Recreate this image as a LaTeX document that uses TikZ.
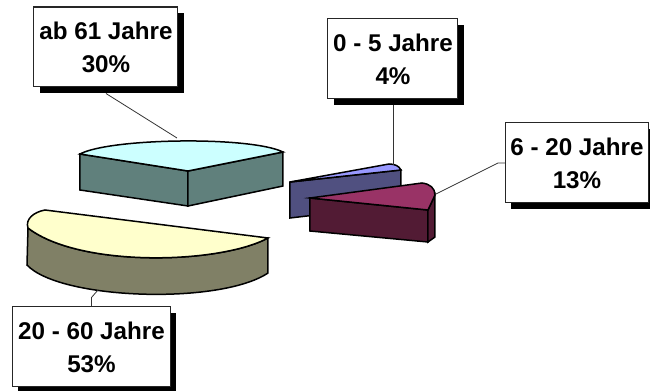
\documentclass[tikz,border=0pt]{standalone}
\usepackage{fontspec}
\setmainfont{Liberation Sans}
\usepackage{tikz}
\usetikzlibrary{shadows}

\definecolor{oldtop}{RGB}{204,255,255}
\definecolor{oldside}{RGB}{96,128,124}
\definecolor{kidtop}{RGB}{153,153,255}
\definecolor{kidside}{RGB}{80,80,128}
\definecolor{youngtop}{RGB}{153,51,102}
\definecolor{youngside}{RGB}{82,27,52}
\definecolor{adulttop}{RGB}{255,255,204}
\definecolor{adultside}{RGB}{128,128,102}

\begin{document}
\begin{tikzpicture}[x=0.5pt, y=-0.5pt, line width=0.75pt,
    labelbox/.style={draw=black!85, fill=white, line width=0.5pt, inner sep=0pt,
      minimum height=40pt, align=center,
      font=\bfseries\fontsize{12.1}{16.5}\selectfont,
      drop shadow={shadow xshift=3pt, shadow yshift=-3pt, opacity=1, fill=black}},
    leader/.style={draw=black!80, line width=0.4pt}]
    \useasboundingbox (0, 0) rectangle (650, 391);

    % draw slice ab 61 Jahre
    \filldraw[fill=oldside, draw=black]
      (80, 154) -- (188, 171) -- (188, 206) -- (80, 190) -- cycle;
    \filldraw[fill=oldside, draw=black]
      (188, 171) -- (283, 152) -- (283, 186) -- (188, 206) -- cycle;
    \filldraw[fill=oldtop, draw=black]
      (80, 154) .. controls (110, 138) and (250, 136) .. (283, 152) -- (188, 171) -- cycle;

    % draw slice 0 - 5 Jahre
    \filldraw[fill=kidside, draw=black]
      (290, 182) -- (401, 170) -- (401, 205) -- (290, 218) -- cycle;
    \filldraw[fill=kidtop, draw=black]
      (290, 182) -- (389, 164) .. controls (395, 164) and (399, 166) .. (401, 170) -- cycle;

    % draw slice 6 - 20 Jahre
    \filldraw[fill=youngside, draw=black]
      (310, 198) -- (428, 210) -- (428, 242) -- (310, 231) -- cycle;
    \filldraw[fill=youngside, draw=black]
      (428, 210) -- (435, 195) -- (435, 237) -- (428, 242) -- cycle;
    \filldraw[fill=youngtop, draw=black]
      (310, 198) -- (422, 183) .. controls (430, 184) and (435, 188) .. (435, 195)
        -- (428, 210) -- cycle;

    % draw slice 20 - 60 Jahre
    \filldraw[fill=adultside, draw=black]
      (268, 238) .. controls (220, 264) and (80, 268) .. (28, 228)
        -- (27, 265) .. controls (60, 300) and (220, 305) .. (268, 273) -- cycle;
    \filldraw[fill=adulttop, draw=black]
      (45, 210) -- (268, 238) .. controls (220, 264) and (80, 268) .. (28, 228)
        .. controls (25, 219) and (34, 212) .. (45, 210) -- cycle;

    % leader ends on the slices
    \coordinate (tip61) at (177, 138);
    \coordinate (tip05) at (393, 165);
    \coordinate (tip620) at (436, 194);
    \coordinate (bend620) at (498, 163);
    \coordinate (tip2060) at (98, 290);

    % label boxes
    \node[labelbox, minimum width=72pt] (l61) at (106, 47) {ab 61 Jahre\\30\%};
    \node[labelbox, minimum width=65pt] (l05) at (393, 59) {0 - 5 Jahre\\4\%};
    \node[labelbox, minimum width=71.5pt] (l620) at (577, 163) {6 - 20 Jahre\\13\%};
    \node[labelbox, minimum width=79pt] (l2060) at (91.5, 347) {20 - 60 Jahre\\53\%};

    % leader lines
    \draw[leader] ([yshift=-3pt]l61.south) -- (tip61);
    \draw[leader] ([yshift=-3pt]l05.south) -- (tip05);
    \draw[leader] (tip620) -- (bend620) -- (l620.west);
    \draw[leader] (l2060.north) -- ++(0, -9) -- (tip2060);
\end{tikzpicture}
\end{document}
